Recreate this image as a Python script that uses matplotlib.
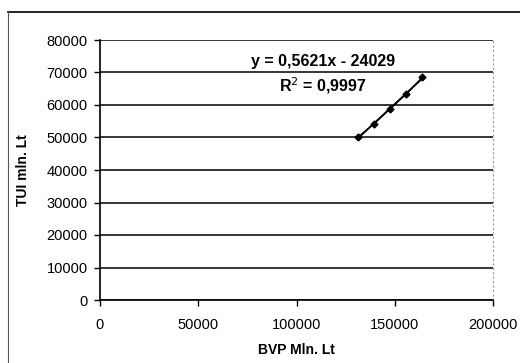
import matplotlib
matplotlib.use('Agg')
import matplotlib.pyplot as plt
from matplotlib.lines import Line2D
import numpy as np

plt.rcParams['font.family'] = ['Liberation Sans', 'DejaVu Sans']

# BVP vs TUI, mln. Lt
bvp = [131100, 139400, 147600, 155700, 164000]
tui = [50000, 54200, 58800, 63300, 68500]
slope, intercept = 0.5621, -24029
eq_text = 'y = 0,5621x - 24029'
r2_text = 'R$^2$ = 0,9997'

xticks = [0, 50000, 100000, 150000, 200000]
yticks = list(range(0, 80001, 10000))

fig = plt.figure(figsize=(5.2, 3.63), dpi=100)
ax = fig.add_axes([100/520, 1-300/363, 393/520, 260/363])

for y in yticks:
  ax.axhline(y, color='black', lw=1.1, zorder=1)

xs = np.array([bvp[0], bvp[-1]])
ax.plot(xs, slope*xs + intercept, color='black', lw=1.3, zorder=2)
ax.plot(bvp, tui, color='black', lw=1.0, marker='D', ms=3.5, zorder=3)

ax.set_xlim(0, 200000)
ax.set_ylim(0, 80000)
ax.set_xticks(xticks)
ax.set_yticks(yticks)
ax.tick_params(axis='both', labelsize=10.5, direction='out', length=4, width=1, colors='black')
ax.tick_params(axis='x', pad=9)
ax.tick_params(axis='y', pad=5)

for s in ['left', 'bottom']:
  ax.spines[s].set_linewidth(1.2)
  ax.spines[s].set_color('black')
ax.spines['top'].set_visible(False)
ax.spines['right'].set_color('#999999')
ax.spines['right'].set_linestyle((0, (1, 3)))
ax.spines['right'].set_linewidth(0.8)

ax.set_xlabel('BVP Mln. Lt', fontsize=10, fontweight='bold', labelpad=8)
ax.set_ylabel('TUI mln. Lt', fontsize=10, fontweight='bold', labelpad=12)

ax.text(113500, 73500, eq_text, fontsize=11.5, fontweight='bold', ha='center', va='center', zorder=4)
ax.text(113500, 66100, r2_text, fontsize=11.5, fontweight='bold', ha='center', va='center', zorder=4)

# outer chart frame (cut off by the picture edge)
fig.add_artist(Line2D([8/520, 1.0], [1-12/363, 1-12/363], color='black', lw=1.2))
fig.add_artist(Line2D([8/520, 8/520], [0.0, 1-12/363], color='#555555', lw=0.8))

fig.savefig('out.png', dpi=100)
